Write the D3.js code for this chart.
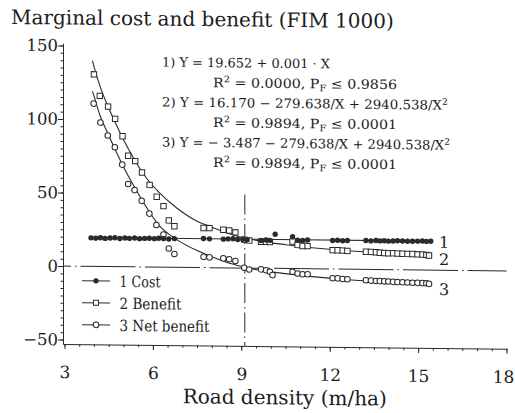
<!DOCTYPE html>
<html>
<head>
<meta charset="utf-8">
<script src="https://cdn.jsdelivr.net/npm/d3@7"></script>
<style>
  body { margin: 0; background: #fff; }
  svg { display: block; background: #fff; }
  text { font-family: "DejaVu Serif", serif; fill: #1c1c1c; }
</style>
</head>
<body>
<div id="plot"></div>
<script>
// values
const costX = [3.9, 4.06, 4.22, 4.38, 4.55, 4.71, 4.88, 5.05, 5.2, 5.38, 5.55, 5.72, 5.88, 6.05, 6.2, 6.36, 6.54, 6.73,
  7.72, 7.92, 8.39, 8.55, 8.72, 8.88, 9.05, 9.2, 9.67, 9.84, 9.97, 10.15, 10.74, 10.91, 11.08, 11.25,
  12.1, 12.27, 12.44, 12.6, 13.23, 13.4, 13.57, 13.7, 13.85, 13.99, 14.15, 14.3, 14.47, 14.64, 14.81, 14.98, 15.15, 15.28, 15.43];
const costY = [19.4, 19.2, 19.5, 19.1, 19.4, 19.6, 19.2, 19.5, 19.3, 19.6, 19.2, 19.4, 19.5, 19.3, 19.6, 19.4, 19.2, 19.5,
  19.8, 19.6, 19.5, 19.7, 19.9, 19.4, 19.6, 19.3, 18.9, 19.2, 19.0, 23.2, 21.6, 19.4, 19.2, 19.5,
  19.4, 19.6, 19.3, 19.5, 19.6, 19.4, 19.7, 19.5, 19.6, 19.4, 19.5, 19.7, 19.6, 19.4, 19.5, 19.6, 19.7, 19.5, 19.6];

const benefitX = [4.0, 4.2, 4.48, 4.72, 4.97, 5.16, 5.4, 5.63, 5.89, 6.13, 6.36, 6.54, 6.73, 7.72, 7.92, 8.39, 8.59, 8.8,
  9.1, 9.27, 9.67, 9.84, 9.97, 10.74, 10.91, 11.08, 11.25, 12.1, 12.27, 12.44, 12.6,
  13.23, 13.4, 13.57, 13.7, 13.85, 13.99, 14.15, 14.3, 14.47, 14.64, 14.81, 14.98, 15.15, 15.28, 15.37];
const benefitY = [130.6, 116.0, 108.8, 100.5, 88.7, 75.5, 71.9, 64.2, 55.8, 47.8, 41.5, 31.8, 27.9, 26.9, 26.9, 25.9, 25.4, 24.2,
  19.3, 18.8, 18.0, 18.0, 17.9, 18.4, 16.1, 15.4, 15.4, 12.8, 12.8, 12.6, 12.4,
  12.0, 11.9, 11.7, 11.4, 11.3, 11.1, 11.2, 11.0, 10.9, 10.8, 10.8, 10.6, 10.5, 10.3, 9.9];

const netX = [3.99, 4.22, 4.47, 4.71, 4.96, 5.16, 5.38, 5.62, 5.88, 6.12, 6.36, 6.54, 6.73, 7.72, 7.92, 8.39, 8.59, 8.8,
  9.1, 9.27, 9.67, 9.84, 9.97, 10.06, 10.74, 10.91, 11.08, 11.25, 12.1, 12.27, 12.44, 12.6,
  13.23, 13.4, 13.57, 13.7, 13.85, 13.99, 14.15, 14.3, 14.47, 14.64, 14.81, 14.98, 15.15, 15.28, 15.37];
const netY = [110.7, 97.8, 89.1, 81.2, 69.4, 56.3, 52.2, 44.9, 36.3, 28.6, 22.2, 12.7, 9.0, 7.3, 7.0, 6.4, 5.9, 4.7,
  0.2, -1.0, -0.8, -1.3, -2.4, -4.6, -2.2, -3.3, -3.8, -3.8, -6.3, -6.3, -6.7, -6.9,
  -7.4, -7.6, -7.8, -7.9, -8.0, -8.1, -8.3, -8.4, -8.5, -8.6, -8.7, -8.8, -8.9, -9.0, -9.4];

// fitted curves as drawn
const fit1X = [3.9, 15.4];
const fit1Y = [19.66, 19.67];
const fitX = [3.95, 4.0, 4.2, 4.45, 4.7, 5.0, 5.4, 5.8, 6.2, 6.8, 7.5, 8.0, 8.7, 9.6, 10.5, 11.5, 12.5, 13.5, 14.5, 15.4];
const fit2Y = [140, 136, 123, 110, 99, 86.5, 72, 60, 51, 40.5, 31.5, 27.5, 22.6, 18.6, 16.2, 14.2, 12.7, 11.6, 10.9, 10.4];
const fit3Y = [119, 116, 103, 91.5, 80.5, 68, 53.5, 40, 28.5, 19, 11.5, 7.5, 2.6, -1.3, -3.5, -5.5, -7.0, -8.1, -8.8, -9.3];

const breakEven = 9.12;
const vLineTop = 50;

const xTicks = [3, 6, 9, 12, 15, 18];
const yTicks = [-50, 0, 50, 100, 150];

const title = "Marginal cost and benefit (FIM 1000)";
const xTitle = "Road density (m/ha)";
const legendLabels = ["1 Cost", "2 Benefit", "3 Net benefit"];
const curveLabels = ["1", "2", "3"];
const equations = [
  [["1) Y = 19.652 + 0.001 · X"]],
  [["R"], ["2", "sup"], [" = 0.0000, P"], ["F", "sub"], [" ≤ 0.9856"]],
  [["2) Y = 16.170 − 279.638/X + 2940.538/X"], ["2", "sup"]],
  [["R"], ["2", "sup"], [" = 0.9894, P"], ["F", "sub"], [" ≤ 0.0001"]],
  [["3) Y = − 3.487 − 279.638/X + 2940.538/X"], ["2", "sup"]],
  [["R"], ["2", "sup"], [" = 0.9894, P"], ["F", "sub"], [" ≤ 0.0001"]]
];

const W = 515, H = 413;
const shear = 0.011;   // the scan is slightly sheared
const ink = "#2a2a2a";

const svg = d3.select("#plot").append("svg")
  .attr("width", W)
  .attr("height", H);

const g = svg.append("g")
  .attr("transform", "translate(0," + (-shear * 65) + ") skewY(" + (Math.atan(shear) * 180 / Math.PI) + ")");

const x = d3.scaleLinear().domain([2.95, 18]).range([63, 506.5]);
const y = d3.scaleLinear().domain([-53, 151.5]).range([344, 43.3]);

// title
g.append("text")
  .attr("x", 11)
  .attr("y", 24.5)
  .attr("font-size", 20)
  .text(title);

// axes
const xMinor = g.append("g")
  .attr("transform", "translate(0," + y(-53) + ")")
  .call(d3.axisBottom(x).tickValues(d3.range(3, 18.01, 0.5)).tickSize(2.5).tickFormat(""));
xMinor.select(".domain").remove();

const xAxis = g.append("g")
  .attr("transform", "translate(0," + y(-53) + ")")
  .call(d3.axisBottom(x).tickValues(xTicks).tickSize(5).tickSizeOuter(0));
xAxis.selectAll("text")
  .attr("y", 34).attr("dy", null)
  .attr("dx", d => d === 18 ? -3.5 : 0)
  .attr("font-size", 17)
  .attr("font-family", "DejaVu Serif");

const yMinor = g.append("g")
  .attr("transform", "translate(" + x(2.95) + ",0)")
  .call(d3.axisLeft(y).tickValues(d3.range(-50, 150.1, 5)).tickSize(2.5).tickFormat(""));
yMinor.select(".domain").remove();

const yAxis = g.append("g")
  .attr("transform", "translate(" + x(2.95) + ",0)")
  .call(d3.axisLeft(y).tickValues(yTicks).tickSize(5).tickSizeOuter(0).tickPadding(0)
    .tickFormat(d => d < 0 ? "\u2212" + Math.abs(d) : d));
yAxis.selectAll("text")
  .attr("font-size", 16.5)
  .attr("font-family", "DejaVu Serif");

g.selectAll(".domain, .tick line").attr("stroke", ink);
g.selectAll(".tick text").attr("fill", "#1c1c1c");

// reference lines
g.append("line")
  .attr("x1", x(2.95)).attr("x2", x(18))
  .attr("y1", y(0)).attr("y2", y(0))
  .attr("stroke", ink).attr("stroke-width", 1)
  .attr("stroke-dasharray", "55,4,1.5,4")
  .attr("stroke-dashoffset", 47);

g.append("line")
  .attr("x1", x(breakEven)).attr("x2", x(breakEven))
  .attr("y1", y(vLineTop)).attr("y2", y(-53))
  .attr("stroke", ink).attr("stroke-width", 1)
  .attr("stroke-dasharray", "20,4,1.5,4");

// fitted curves
const line = d3.line()
  .x(d => x(d[0]))
  .y(d => y(d[1]))
  .curve(d3.curveMonotoneX);

const fits = [
  d3.zip(fit1X, fit1Y),
  d3.zip(fitX, fit2Y),
  d3.zip(fitX, fit3Y)
];

g.selectAll(".fit")
  .data(fits)
  .join("path")
  .attr("class", "fit")
  .attr("fill", "none")
  .attr("stroke", ink)
  .attr("stroke-width", 1.1)
  .attr("d", line);

// curve numbers at the right end
const labelDy = [6.5, 10.2, 11.2];
g.selectAll(".curve-label")
  .data(fits)
  .join("text")
  .attr("class", "curve-label")
  .attr("x", d => x(d[d.length - 1][0]) + 9)
  .attr("y", (d, i) => y(d[d.length - 1][1]) + labelDy[i])
  .attr("font-size", 16)
  .text((d, i) => curveLabels[i]);

// points
const sq = 5.4;
g.selectAll(".benefit")
  .data(d3.zip(benefitX, benefitY))
  .join("rect")
  .attr("class", "benefit")
  .attr("x", d => x(d[0]) - sq / 2)
  .attr("y", d => y(d[1]) - sq / 2)
  .attr("width", sq).attr("height", sq)
  .attr("fill", "#fff").attr("stroke", ink).attr("stroke-width", 1);

g.selectAll(".net")
  .data(d3.zip(netX, netY))
  .join("circle")
  .attr("class", "net")
  .attr("cx", d => x(d[0]))
  .attr("cy", d => y(d[1]))
  .attr("r", 2.8)
  .attr("fill", "#fff").attr("stroke", ink).attr("stroke-width", 1);

g.selectAll(".cost")
  .data(d3.zip(costX, costY))
  .join("circle")
  .attr("class", "cost")
  .attr("cx", d => x(d[0]))
  .attr("cy", d => y(d[1]))
  .attr("r", 2.7)
  .attr("fill", ink);

// equations
const eqX = [162, 213, 162, 213, 162, 213];
const eqW = [168, 184, 286, 184, 288, 184];
equations.forEach((parts, i) => {
  const t = g.append("text")
    .attr("x", eqX[i])
    .attr("y", 65.5 + i * 20)
    .attr("font-size", 13);
  let shift = 0;
  parts.forEach(p => {
    const want = p[1] === "sup" ? -5 : p[1] === "sub" ? 3 : 0;
    t.append("tspan")
      .attr("dy", want - shift)
      .attr("font-size", p[1] ? 9 : null)
      .text(p[0]);
    shift = want;
  });
  t.attr("textLength", eqW[i]).attr("lengthAdjust", "spacingAndGlyphs");
});

// x axis title
g.append("text")
  .attr("x", (x(2.95) + x(18)) / 2)
  .attr("y", 402)
  .attr("text-anchor", "middle")
  .attr("font-size", 20)
  .text(xTitle);

// legend
const legW = [41, 62, 90];
const leg = g.selectAll(".legend")
  .data(legendLabels)
  .join("g")
  .attr("class", "legend")
  .attr("transform", (d, i) => "translate(82," + (280.5 + i * 22) + ")");

leg.append("line")
  .attr("x1", 0).attr("x2", 28)
  .attr("stroke", ink).attr("stroke-width", 1.1);

leg.filter((d, i) => i === 0).append("circle")
  .attr("cx", 14).attr("r", 2.7).attr("fill", ink);
leg.filter((d, i) => i === 1).append("rect")
  .attr("x", 14 - 2.5).attr("y", -2.5).attr("width", 5).attr("height", 5)
  .attr("fill", "#fff").attr("stroke", ink);
leg.filter((d, i) => i === 2).append("circle")
  .attr("cx", 14).attr("r", 2.8).attr("fill", "#fff").attr("stroke", ink);

leg.append("text")
  .attr("x", 37.5)
  .attr("y", 5.8)
  .attr("font-size", 15.5)
  .attr("textLength", (d, i) => legW[i])
  .attr("lengthAdjust", "spacingAndGlyphs")
  .text(d => d);
</script>
</body>
</html>
